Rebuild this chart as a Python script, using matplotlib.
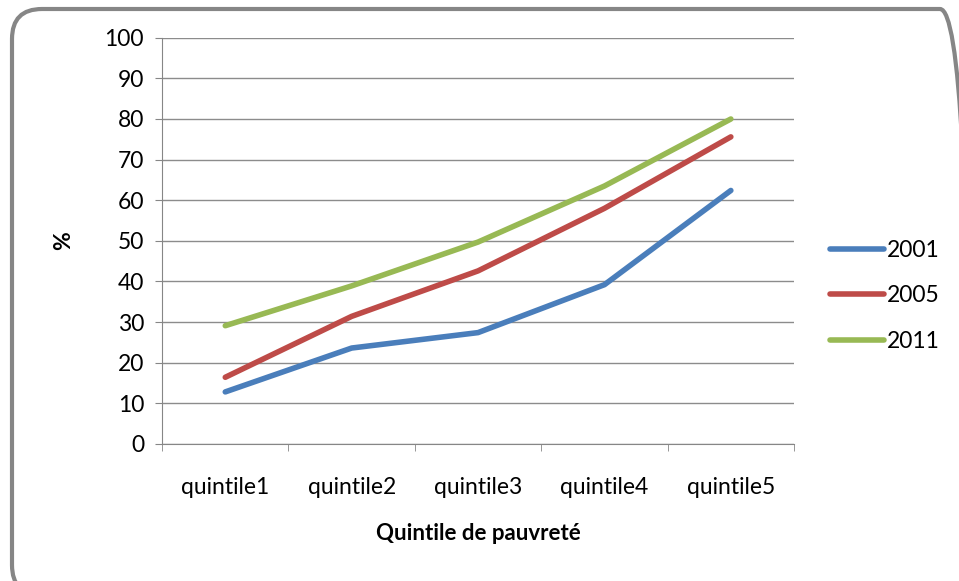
import matplotlib.pyplot as plt
from matplotlib.patches import FancyBboxPatch
from matplotlib.transforms import IdentityTransform

plt.rcParams['font.family'] = ['Lato', 'DejaVu Sans']

quintiles = ['quintile1', 'quintile2', 'quintile3', 'quintile4', 'quintile5']
v2001 = [12.8, 23.6, 27.4, 39.2, 62.4]
v2005 = [16.4, 31.4, 42.6, 58.0, 75.6]
v2011 = [29.1, 38.9, 49.7, 63.5, 80.0]

series = [('2001', v2001, '#4a7ebb'), ('2005', v2005, '#be4b48'), ('2011', v2011, '#98b954')]
grey = '#868686'

fig = plt.figure(figsize=(9.59, 5.81), dpi=100)

# rounded chart border, in pixels (runs off the right and bottom edges)
frame = FancyBboxPatch((12, -14), 958, 586, boxstyle='round,pad=0,rounding_size=30',
                       transform=IdentityTransform(), fill=False, edgecolor=grey, linewidth=3)
fig.patches.append(frame)

ax = fig.add_axes([0.169, 0.236, 0.659, 0.699])
x = range(len(quintiles))
for name, vals, col in series:
    ax.plot(x, vals, color=col, linewidth=4, label=name, solid_capstyle='round')

ax.set_xlim(-0.5, 4.5)
ax.set_ylim(0, 100)
ax.set_yticks(range(0, 101, 10))
ax.set_xticks(list(x))
ax.set_xticklabels(quintiles, fontsize=16.5)
ax.set_xticks([i - 0.5 for i in range(6)], minor=True)
ax.tick_params(axis='x', which='major', length=0, pad=24)
ax.tick_params(axis='x', which='minor', length=5, color=grey, direction='out')
ax.tick_params(axis='y', labelsize=16.5, length=5, color=grey, pad=8)
ax.grid(axis='y', color='#8c8c8c', linewidth=1)
ax.set_axisbelow(True)
for s in ['top', 'right']:
    ax.spines[s].set_visible(False)
for s in ['left', 'bottom']:
    ax.spines[s].set_color(grey)

ax.set_ylabel('%', fontsize=16.5, fontweight='bold', labelpad=22)
ax.set_xlabel('Quintile de pauvreté', fontsize=16, fontweight='bold', labelpad=18)

fig.legend(loc='center left', bbox_to_anchor=(830 / 959, (581 - 296) / 581), frameon=False,
           fontsize=16.5, handlelength=2.35, handletextpad=0.13, labelspacing=1.05,
           borderpad=0, borderaxespad=0)

fig.savefig('out.png', dpi=100)
